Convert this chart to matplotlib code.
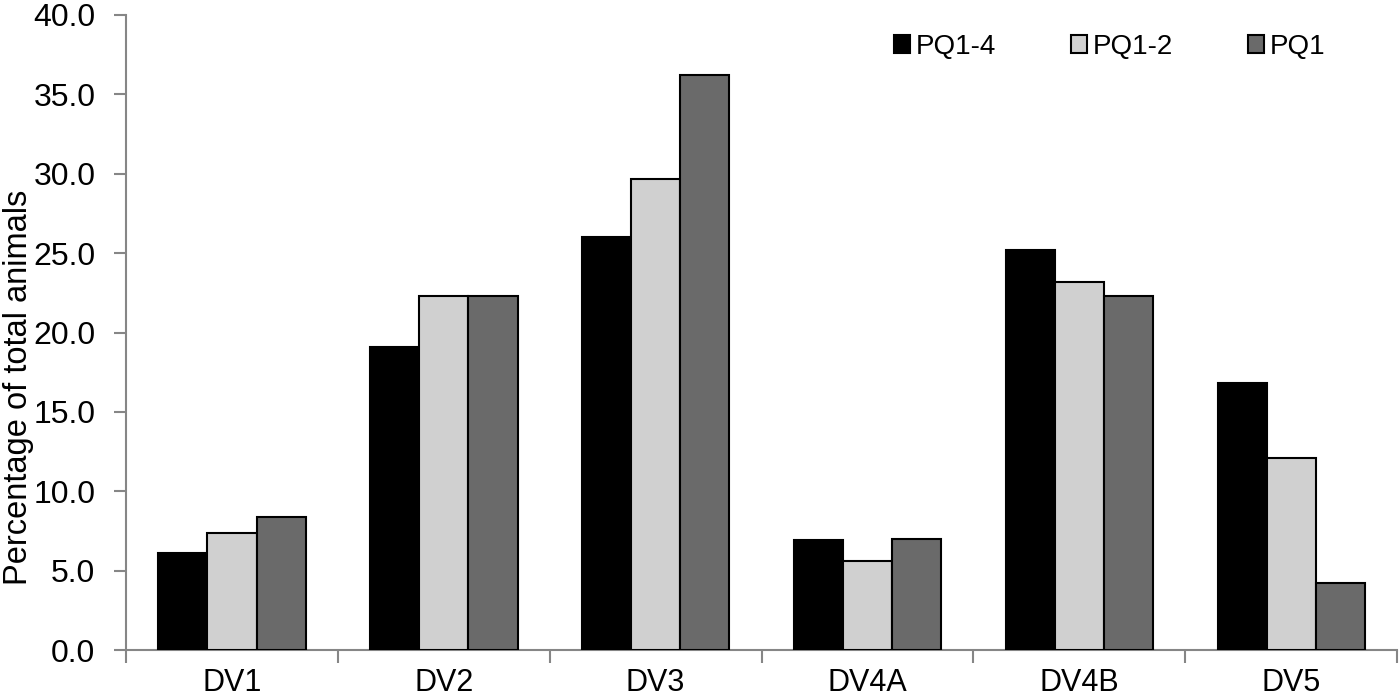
import matplotlib
matplotlib.use("Agg")
import matplotlib.pyplot as plt
import numpy as np
from matplotlib.ticker import FormatStrFormatter, FixedLocator

plt.rcParams['font.family'] = ['Liberation Sans', 'DejaVu Sans']

categories = ["DV1", "DV2", "DV3", "DV4A", "DV4B", "DV5"]
series_names = ["PQ1-4", "PQ1-2", "PQ1"]
pq1_4 = [6.1, 19.1, 26.0, 6.9, 25.2, 16.8]
pq1_2 = [7.4, 22.3, 29.7, 5.6, 23.2, 12.1]
pq1 = [8.4, 22.3, 36.2, 7.0, 22.3, 4.2]
colors = ["#000000", "#d0d0d0", "#6a6a6a"]

fig = plt.figure(figsize=(14, 7), dpi=100)
ax = fig.add_axes([0.09, 0.0714, 0.908, 0.9072])

x = np.arange(len(categories))
w = 0.232
for i, (vals, name, c) in enumerate(zip([pq1_4, pq1_2, pq1], series_names, colors)):
    ax.bar(x + (i - 1) * w, vals, width=w, color=c, edgecolor="black",
           linewidth=1.5, label=name, zorder=3)

axis_col = "#868686"
ax.set_xlim(-0.5, len(categories) - 0.5)
ax.set_ylim(0, 40)
ax.set_yticks(np.arange(0, 40.1, 5))
ax.yaxis.set_major_formatter(FormatStrFormatter('%.1f'))
ax.set_xticks(x)
ax.set_xticklabels(categories)
ax.xaxis.set_minor_locator(FixedLocator(np.arange(-0.5, len(categories), 1.0)))
ax.tick_params(axis='x', which='major', length=0, pad=13, labelsize=22)
ax.tick_params(axis='x', which='minor', length=9, width=1.5, color=axis_col, direction='out')
ax.tick_params(axis='y', length=9, width=1.5, color=axis_col, direction='out', labelsize=23, pad=13)
for s in ['top', 'right']:
    ax.spines[s].set_visible(False)
for s in ['left', 'bottom']:
    ax.spines[s].set_color(axis_col)
    ax.spines[s].set_linewidth(1.5)
ax.set_ylabel("Percentage of total animals", fontsize=23.5)
ax.yaxis.set_label_coords(-0.072, 0.414)

leg = ax.legend(loc='center right', bbox_to_anchor=(0.9464, 0.933), bbox_transform=fig.transFigure,
                ncol=3, frameon=False, borderpad=0, borderaxespad=0,
                fontsize=20, handlelength=0.58, handleheight=0.58, handletextpad=0.2,
                columnspacing=2.7)
for h in leg.legend_handles:
    h.set_linewidth(1.5)

fig.savefig("out.png", dpi=100)
